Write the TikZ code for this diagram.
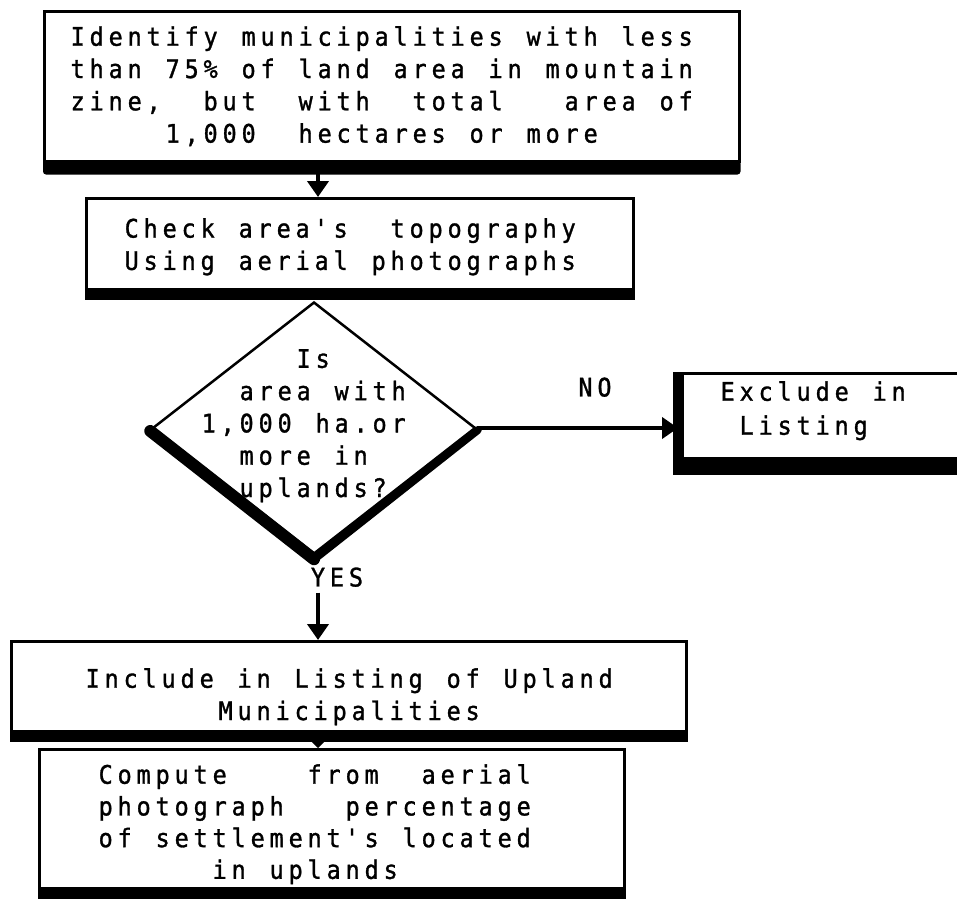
\documentclass[tikz,border=0pt]{standalone}
\usepackage{fontspec}
\usetikzlibrary{shapes.geometric,arrows.meta}
\newfontfamily\twfont[FakeStretch=0.92,FakeBold=1.2]{DejaVu Sans Mono}
\ExplSyntaxOn
\NewDocumentCommand\tw{m}{
  \hbox:n {
    \rule[-6pt]{0pt}{24pt}
    \tl_map_inline:nn {#1} { \hbox_to_wd:nn {19pt} { \hss ##1 \hss } }
  }
}
\ExplSyntaxOff
\tikzset{
  frame/.style={draw, line width=2.5pt, rectangle, inner sep=0pt, anchor=north west},
  band/.style={fill=black},
  txt/.style={font=\twfont\fontsize{25.5}{32.3}\selectfont, align=left, inner sep=0pt, anchor=north west},
  lbl/.style={font=\twfont\fontsize{25.5}{32.3}\selectfont, inner sep=0pt},
  arr/.style={line width=4pt, -{Triangle[width=21pt,length=16pt]}},
}
\begin{document}
\begin{tikzpicture}[x=1pt,y=-1pt]
\useasboundingbox (0,0) rectangle (957,900);
\coordinate (sp) at (318,0);
% boxes
\node[frame, minimum width=695pt, minimum height=150pt] (b1) at (43,10) {};
\fill[band, rounded corners=3pt] ([yshift=2pt]b1.south west) rectangle ([yshift=-12pt]b1.south east);
\node[frame, minimum width=547pt, minimum height=91pt] (b2) at (85,197) {};
\fill[band] ([yshift=2pt]b2.south west) rectangle ([yshift=-9pt]b2.south east);
\node[frame, minimum width=300pt, minimum height=85pt] (bE) at (678,372) {};
\fill[band] ([xshift=-5pt]bE.north west) rectangle ([xshift=6pt]bE.south west);
\fill[band] ([xshift=-5pt,yshift=2pt]bE.south west) rectangle ([yshift=-15pt]bE.south east);
\node[frame, minimum width=675pt, minimum height=90pt] (bI) at (10,640) {};
\fill[band] ([yshift=2pt]bI.south west) rectangle ([yshift=-9pt]bI.south east);
\node[frame, minimum width=585pt, minimum height=139pt] (bC) at (38,748) {};
\fill[band] ([yshift=2pt]bC.south west) rectangle ([yshift=-9pt]bC.south east);
% diamond
\node[diamond, draw, line width=2.5pt, aspect=1.28, minimum width=323pt, minimum height=252pt, inner sep=0pt] (d) at (314,428) {};
\draw[line width=12pt, line cap=round] ([shift={(-1,3)}]d.west) -- ([shift={(0,4)}]d.south);
\draw[line width=8pt, line cap=round] ([shift={(0,4)}]d.south) -- ([shift={(1,2)}]d.east);
% texts
\node[txt] (t1) at (68,26) {\tw{Identify~municipalities~with~less}\\
\tw{than~75\%~of~land~area~in~mountain}\\
\tw{zine,~~but~~with~~total~~~area~of}\\
\tw{~~~~~1,000~~hectares~or~more}};
\node[txt] (t2) at (122,218) {\tw{Check~area\textquotesingle s~~topography}\\
\tw{Using~aerial~photographs}};
\node[txt] (td) at (199,349) {\tw{~~~~~Is}\\
\tw{~~area~with}\\
\tw{1,000~ha.or}\\
\tw{~~more~in}\\
\tw{~~uplands?}};
\node[txt, font=\twfont\fontsize{25.5}{34}\selectfont] (tE) at (718,381) {\tw{Exclude~in}\\
\tw{~Listing}};
\node[txt] (tI) at (83,668) {\tw{Include~in~Listing~of~Upland}\\
\tw{~~~~~~~Municipalities}};
\node[txt, font=\twfont\fontsize{25.5}{31.7}\selectfont] (tC) at (96,764) {\tw{Compute~~~~from~~aerial}\\
\tw{photograph~~~percentage}\\
\tw{of~settlement\textquotesingle s~located}\\
\tw{~~~~~~in~uplands}};
\node[lbl] (no) at (595,390) {\tw{NO}};
\node[lbl] (yes) at (337,580) {\tw{YES}};
% connectors
\draw[arr] (b1.south -| sp) -- (b2.north -| sp);
\draw[arr] (d.east) -- (bE.west |- d.east);
\draw[arr] (yes.south -| sp) -- (bI.north -| sp);
\draw[line width=4pt, -{Triangle[width=18pt,length=9pt]}] (bI.south -| sp) -- (bC.north -| sp);
\end{tikzpicture}
\end{document}
